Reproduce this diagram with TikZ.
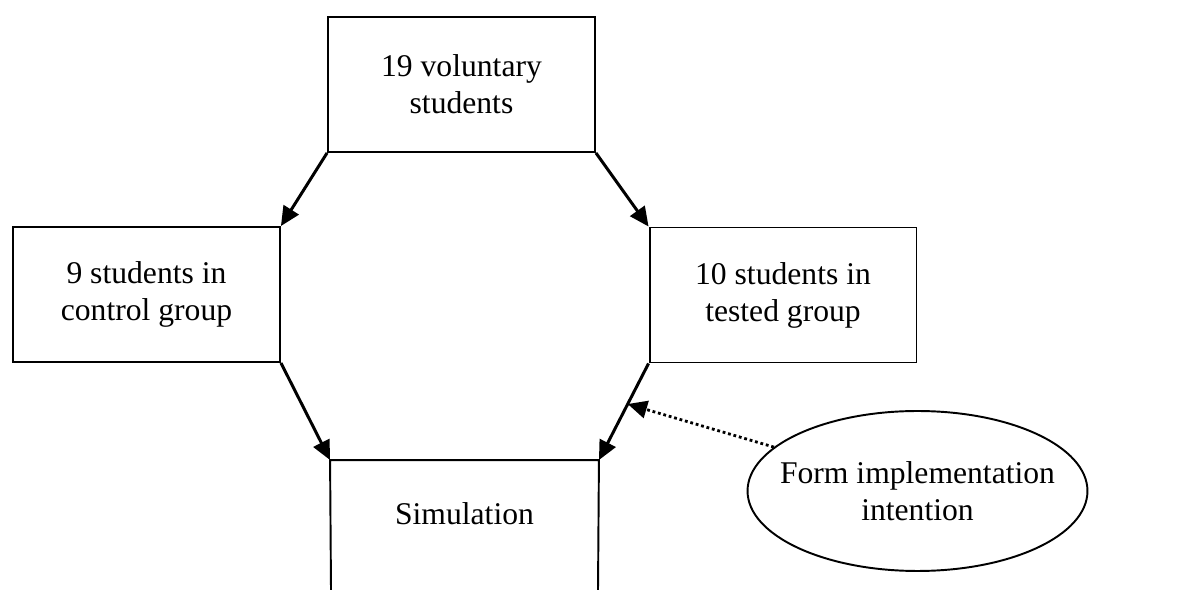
\documentclass[tikz,border=0pt]{standalone}
\usepackage{fontspec}
\setmainfont{Liberation Serif}
\usetikzlibrary{arrows.meta,shapes.geometric}

\tikzset{
  box/.style={draw, line width=1.1pt, minimum width=5.34cm, minimum height=2.7cm,
    align=center, font=\fontsize{18}{21}\selectfont, inner sep=0pt},
  arr/.style={line width=1.7pt, -{Triangle[length=11pt,width=10pt]}},
  dotarr/.style={line width=1.6pt, dash pattern=on 1.6pt off 1.6pt,
    -{Triangle[length=11pt,width=10pt]}}
}

\begin{document}
\begin{tikzpicture}[x=0.02cm, y=-0.02cm]
  \useasboundingbox (0,0) rectangle (1180,590);

  % boxes
  \node[box] (top) at (461.5,84.5) {19 voluntary\\students};
  \node[box] (ctrl) at (146.5,294.5) {9 students in\\control group};
  \node[box] (test) at (783,295) {10 students in\\tested group};
  \node[box, draw=none, minimum height=2.12cm] (sim) at (464.5,514) {Simulation};
  \coordinate (simbl) at (331,590);
  \coordinate (simbr) at (598,590);
  \draw[line width=1.1pt] (simbl) -- (sim.north west) -- (sim.north east) -- (simbr);

  \node[draw, ellipse, line width=1.1pt, minimum width=6.8cm, minimum height=3.2cm,
    align=center, font=\fontsize{18}{21}\selectfont, inner xsep=-12pt, inner ysep=0pt]
    (form) at (917.5,491) {Form implementation\\intention};

  % arrows
  \draw[arr] (top.south west) -- (ctrl.north east);
  \draw[arr] (top.south east) -- (test.north west);
  \draw[arr] (ctrl.south east) -- (sim.north west);
  \draw[arr] (test.south west) -- coordinate[pos=0.42] (hit) (sim.north east);
  \draw[dotarr] (form.163) -- (hit);
\end{tikzpicture}
\end{document}
